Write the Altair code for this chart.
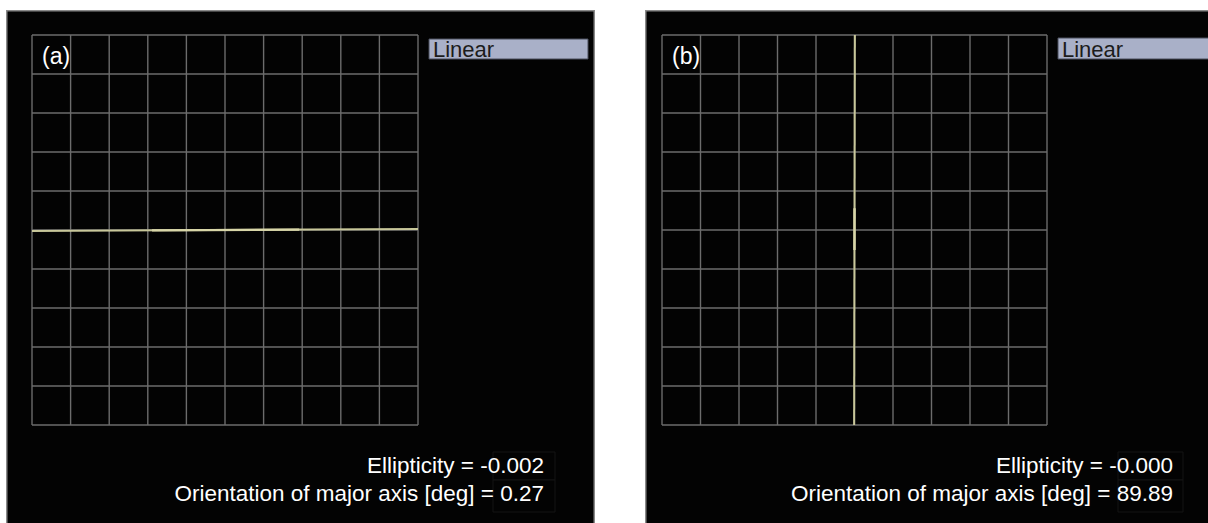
import math

import altair as alt
import pandas as pd

# ---- readings shown on the two oscilloscope screens ----
panel_tags = ["(a)", "(b)"]
mode_names = ["Linear", "Linear"]
ellipticity_labels = ["-0.002", "-0.000"]
orientation_deg = [0.27, 89.89]
orientation_labels = ["0.27", "89.89"]

# 10 x 10 graticule, in divisions
grid_divisions = list(range(-5, 6))
# the trace spans the full screen along its major axis
trace_half_length = [5.0, 5.0]
# brighter (re-drawn) stretch of the trace, along the major axis
bright_span = [(-1.89, 1.92), (-0.51, 0.56)]

# ---- layout (pixels) ----
W, H = 1208, 523
FONT = "Liberation Sans"
screen_x = [(6, 595), (645, 1220)]
screen_top = 10
graticule_x = [(32, 418), (662, 1047)]
graticule_y = (425, 35)
mode_box = [(429, 588, 39, 59), (1058, 1220, 38, 59)]
tag_x = [42, 672]
readout_right = [544, 1173]
readout_base = [473, 501]
value_box_x = [(493, 555), (1118, 1183)]

SCREEN = "#030303"
GRID = "#6c6c6c"
TRACE = "#c8c79a"
TRACE_BRIGHT = "#d8d6a8"
BORDER = "#8a8a8a"

one = pd.DataFrame({"k": [0]})


def screen_layers(i):
    xs = alt.Scale(domain=[-5, 5], range=list(graticule_x[i]), nice=False, zero=False)
    ys = alt.Scale(domain=[-5, 5], range=list(graticule_y), nice=False, zero=False)

    def seg():
        return dict(
            x=alt.X("x:Q", scale=xs, axis=None),
            x2="x2:Q",
            y=alt.Y("y:Q", scale=ys, axis=None),
            y2="y2:Q",
        )

    x0, x1 = screen_x[i]
    layers = [
        alt.Chart(one).mark_rect(fill=SCREEN).encode(
            x=alt.value(x0), x2=alt.value(x1), y=alt.value(screen_top), y2=alt.value(H + 10)),
        alt.Chart(one).mark_rule(color=BORDER, strokeWidth=1.5).encode(
            x=alt.value(x0), x2=alt.value(x1), y=alt.value(screen_top + 0.75)),
        alt.Chart(one).mark_rule(color=BORDER, strokeWidth=1.5).encode(
            x=alt.value(x0 + 0.75), y=alt.value(screen_top), y2=alt.value(H + 10)),
    ]
    if x1 < W:
        layers.append(alt.Chart(one).mark_rule(color=BORDER, strokeWidth=1.5).encode(
            x=alt.value(x1 - 0.75), y=alt.value(screen_top), y2=alt.value(H + 10)))

    # graticule
    lo, hi = grid_divisions[0], grid_divisions[-1]
    rows = []
    for d in grid_divisions:
        rows.append({"x": d, "x2": d, "y": lo, "y2": hi})
        rows.append({"x": lo, "x2": hi, "y": d, "y2": d})
    layers.append(alt.Chart(pd.DataFrame(rows)).mark_rule(
        color=GRID, strokeWidth=1.4).encode(**seg()))

    # trace: the major axis of the polarisation ellipse
    th = math.radians(orientation_deg[i])
    c, s = math.cos(th), math.sin(th)
    a = trace_half_length[i]
    layers.append(alt.Chart(pd.DataFrame(
        [{"x": -a * c, "x2": a * c, "y": -a * s, "y2": a * s}]
    )).mark_rule(color=TRACE, strokeWidth=2).encode(**seg()))
    t0, t1 = bright_span[i]
    layers.append(alt.Chart(pd.DataFrame(
        [{"x": t0 * c, "x2": t1 * c, "y": t0 * s, "y2": t1 * s}]
    )).mark_rule(color=TRACE_BRIGHT, strokeWidth=2.4).encode(**seg()))

    # mode indicator
    bx0, bx1, by0, by1 = mode_box[i]
    layers.append(alt.Chart(one).mark_rect(
        fill="#a9b0c8", stroke="#4a4e5c", strokeWidth=1
    ).encode(x=alt.value(bx0), x2=alt.value(bx1), y=alt.value(by0), y2=alt.value(by1)))
    layers.append(alt.Chart(pd.DataFrame({"t": [mode_names[i]]})).mark_text(
        align="left", baseline="alphabetic", font=FONT, fontSize=22, color="#1c1c1c"
    ).encode(x=alt.value(bx0 + 4), y=alt.value(57), text="t:N"))

    # panel tag
    layers.append(alt.Chart(pd.DataFrame({"t": [panel_tags[i]]})).mark_text(
        align="left", baseline="alphabetic", font=FONT, fontSize=23, color="#ffffff"
    ).encode(x=alt.value(tag_x[i]), y=alt.value(64), text="t:N"))

    # faint boxes behind the numeric readouts
    vx0, vx1 = value_box_x[i]
    for yy0, yy1 in [(452, 480), (480, 512)]:
        layers.append(alt.Chart(one).mark_rect(
            fill=SCREEN, stroke="#141414", strokeWidth=1
        ).encode(x=alt.value(vx0), x2=alt.value(vx1), y=alt.value(yy0), y2=alt.value(yy1)))

    layers.append(alt.Chart(pd.DataFrame({
        "t": [f"Ellipticity = {ellipticity_labels[i]}",
              f"Orientation of major axis [deg] = {orientation_labels[i]}"],
        "yy": readout_base,
    })).mark_text(
        align="right", baseline="alphabetic", font=FONT, fontSize=22.5, color="#ffffff"
    ).encode(x=alt.value(readout_right[i]), y=alt.Y("yy:Q", scale=None, axis=None),
             text="t:N"))
    return layers


chart = alt.layer(*screen_layers(0), *screen_layers(1)).resolve_scale(
    x="independent", y="independent"
).properties(
    width=W,
    height=H,
    padding=0,
    autosize=alt.AutoSizeParams(type="none"),
    background="#ffffff",
).configure_view(stroke="transparent")

chart.save("out.html", embed_options={"renderer": "svg", "actions": False})
